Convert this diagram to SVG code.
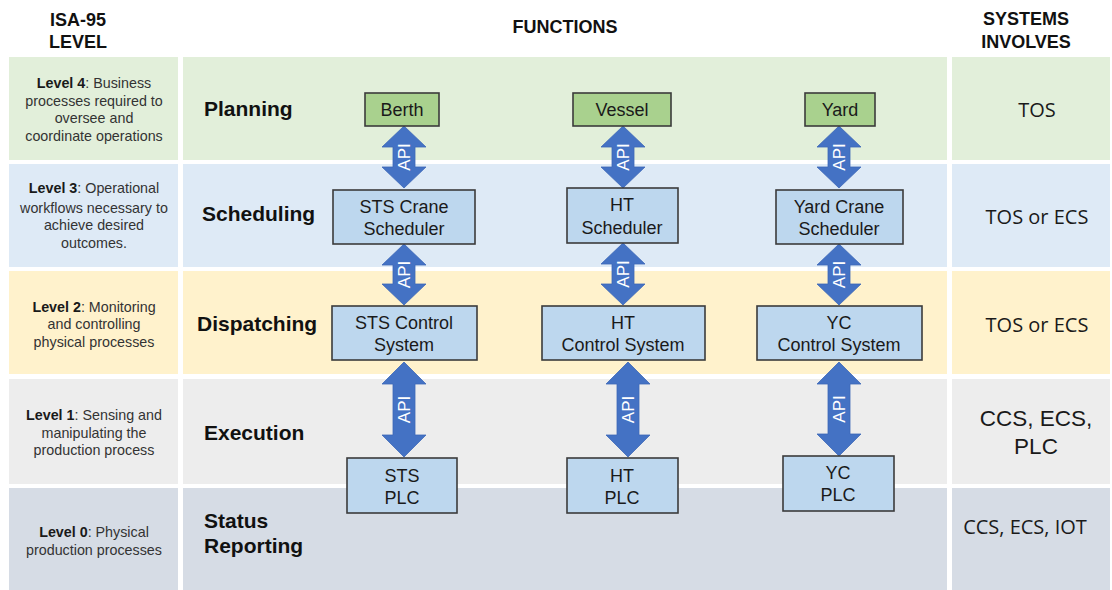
<svg xmlns="http://www.w3.org/2000/svg" width="1112" height="590" viewBox="0 0 1112 590">
  <style>
    .hdr { font-family: "Liberation Sans", Arial, sans-serif; font-weight: bold; font-size: 18px; fill: #111; text-anchor: middle; }
    .lvl { font-family: "Liberation Sans", Arial, sans-serif; font-size: 14.3px; fill: #333; text-anchor: middle; }
    .lvl tspan.b { font-weight: bold; fill: #1a1a1a; }
    .fn { font-family: "Liberation Sans", Arial, sans-serif; font-weight: bold; font-size: 21px; fill: #111; }
    .box { fill: #bdd7ee; stroke: #3b3b3b; stroke-width: 1.6; }
    .box-top { fill: #a9d18e; stroke: #3b3b3b; stroke-width: 1.6; }
    .bt { font-family: "Liberation Sans", Arial, sans-serif; font-size: 18px; fill: #1a1a1a; text-anchor: middle; }
    .sys { font-family: "Open Sans", "Liberation Sans", sans-serif; font-size: 20px; fill: #1a1a1a; text-anchor: middle; }
    .sys2 { font-family: "Liberation Sans", Arial, sans-serif; font-size: 22.5px; fill: #1a1a1a; text-anchor: middle; }
    .arrow { fill: #4472c4; stroke: #3d68b8; stroke-width: 0.8; }
    .api { font-family: "Liberation Sans", Arial, sans-serif; font-size: 17px; fill: #ffffff; text-anchor: middle; }
    .g4 { fill: #e2efda; } .g3 { fill: #deeaf6; } .g2 { fill: #fff2cc; } .g1 { fill: #ededed; } .g0 { fill: #d6dce5; }
  </style>

  <rect width="1112" height="590" fill="#ffffff"/>

  <!-- column headers -->
  <g id="headers">
    <text class="hdr" x="78" y="26">ISA-95</text>
    <text class="hdr" x="78" y="48">LEVEL</text>
    <text class="hdr" x="565" y="33">FUNCTIONS</text>
    <text class="hdr" x="1026" y="25">SYSTEMS</text>
    <text class="hdr" x="1026" y="48">INVOLVES</text>
  </g>

  <!-- level bands: left description, function area, systems -->
  <g id="bands">
    <rect class="g4" x="9" y="57" width="169" height="103"/>
    <rect class="g4" x="183" y="57" width="764" height="103"/>
    <rect class="g4" x="952" y="57" width="158" height="103"/>

    <rect class="g3" x="9" y="164" width="169" height="103"/>
    <rect class="g3" x="183" y="164" width="764" height="103"/>
    <rect class="g3" x="952" y="164" width="158" height="103"/>

    <rect class="g2" x="9" y="271" width="169" height="103"/>
    <rect class="g2" x="183" y="271" width="764" height="103"/>
    <rect class="g2" x="952" y="271" width="158" height="103"/>

    <rect class="g1" x="9" y="379" width="169" height="105"/>
    <rect class="g1" x="183" y="379" width="764" height="105"/>
    <rect class="g1" x="952" y="379" width="158" height="105"/>

    <rect class="g0" x="9" y="488" width="169" height="102"/>
    <rect class="g0" x="183" y="488" width="764" height="102"/>
    <rect class="g0" x="952" y="488" width="158" height="102"/>
  </g>

  <!-- level descriptions -->
  <g id="level-4">
    <text class="lvl" x="94" y="88"><tspan class="b">Level 4</tspan>: Business</text>
    <text class="lvl" x="94" y="106">processes required to</text>
    <text class="lvl" x="94" y="123">oversee and</text>
    <text class="lvl" x="94" y="141">coordinate operations</text>
  </g>
  <g id="level-3">
    <text class="lvl" x="94" y="193"><tspan class="b">Level 3</tspan>: Operational</text>
    <text class="lvl" x="94" y="213">workflows necessary to</text>
    <text class="lvl" x="94" y="230">achieve desired</text>
    <text class="lvl" x="94" y="248">outcomes.</text>
  </g>
  <g id="level-2">
    <text class="lvl" x="94" y="312"><tspan class="b">Level 2</tspan>: Monitoring</text>
    <text class="lvl" x="94" y="329">and controlling</text>
    <text class="lvl" x="94" y="347">physical processes</text>
  </g>
  <g id="level-1">
    <text class="lvl" x="94" y="420"><tspan class="b">Level 1</tspan>: Sensing and</text>
    <text class="lvl" x="94" y="438">manipulating the</text>
    <text class="lvl" x="94" y="455">production process</text>
  </g>
  <g id="level-0">
    <text class="lvl" x="94" y="537"><tspan class="b">Level 0</tspan>: Physical</text>
    <text class="lvl" x="94" y="555">production processes</text>
  </g>

  <!-- function names -->
  <g id="functions">
    <text class="fn" x="204" y="116">Planning</text>
    <text class="fn" x="202" y="221">Scheduling</text>
    <text class="fn" x="197" y="331">Dispatching</text>
    <text class="fn" x="204" y="440">Execution</text>
    <text class="fn" x="204" y="528">Status</text>
    <text class="fn" x="204" y="553">Reporting</text>
  </g>

  <!-- systems involved -->
  <g id="systems">
    <text class="sys" x="1037" y="117">TOS</text>
    <text class="sys" x="1037" y="224">TOS or ECS</text>
    <text class="sys" x="1037" y="332">TOS or ECS</text>
    <text class="sys2" x="1036" y="426">CCS, ECS,</text>
    <text class="sys2" x="1036" y="454">PLC</text>
    <text class="sys" x="1025" y="534">CCS, ECS, IOT</text>
  </g>

  <!-- API connectors (double-headed block arrows) -->
  <g id="connectors">
    <path class="arrow" d="M404,126 L426,147 L415,147 L415,167 L426,167 L404,188 L382,167 L393,167 L393,147 L382,147 Z"/>
    <path class="arrow" d="M404,244 L426,265 L415,265 L415,284 L426,284 L404,305 L382,284 L393,284 L393,265 L382,265 Z"/>
    <path class="arrow" d="M404,362 L426,384 L415,384 L415,435 L426,435 L404,457 L382,435 L393,435 L393,384 L382,384 Z"/>

    <path class="arrow" d="M623,126 L645,147 L634,147 L634,167 L645,167 L623,188 L601,167 L612,167 L612,147 L601,147 Z"/>
    <path class="arrow" d="M623,243 L645,264 L634,264 L634,284 L645,284 L623,305 L601,284 L612,284 L612,264 L601,264 Z"/>
    <path class="arrow" d="M628,362 L650,384 L639,384 L639,435 L650,435 L628,457 L606,435 L617,435 L617,384 L606,384 Z"/>

    <path class="arrow" d="M839,126 L861,147 L850,147 L850,167 L861,167 L839,188 L817,167 L828,167 L828,147 L817,147 Z"/>
    <path class="arrow" d="M839,244 L861,265 L850,265 L850,284 L861,284 L839,305 L817,284 L828,284 L828,265 L817,265 Z"/>
    <path class="arrow" d="M839,362 L861,384 L850,384 L850,434 L861,434 L839,456 L817,434 L828,434 L828,384 L817,384 Z"/>

    <text class="api" transform="translate(404,157) rotate(-90)" y="6">API</text>
    <text class="api" transform="translate(404,274.5) rotate(-90)" y="6">API</text>
    <text class="api" transform="translate(404,409.5) rotate(-90)" y="6">API</text>
    <text class="api" transform="translate(623,157) rotate(-90)" y="6">API</text>
    <text class="api" transform="translate(623,274) rotate(-90)" y="6">API</text>
    <text class="api" transform="translate(628,409.5) rotate(-90)" y="6">API</text>
    <text class="api" transform="translate(839,157) rotate(-90)" y="6">API</text>
    <text class="api" transform="translate(839,274.5) rotate(-90)" y="6">API</text>
    <text class="api" transform="translate(839,409) rotate(-90)" y="6">API</text>
  </g>

  <!-- STS column -->
  <g id="berth">
    <rect class="box-top" x="365" y="93" width="74" height="33"/>
    <text class="bt" x="402" y="116">Berth</text>
  </g>
  <g id="sts-crane-scheduler">
    <rect class="box" x="333" y="190" width="142" height="54"/>
    <text class="bt" x="404" y="213">STS Crane</text>
    <text class="bt" x="404" y="235">Scheduler</text>
  </g>
  <g id="sts-control-system">
    <rect class="box" x="332" y="306" width="145" height="54"/>
    <text class="bt" x="404" y="329">STS Control</text>
    <text class="bt" x="404" y="351">System</text>
  </g>
  <g id="sts-plc">
    <rect class="box" x="347" y="458" width="110" height="55"/>
    <text class="bt" x="402" y="482">STS</text>
    <text class="bt" x="402" y="504">PLC</text>
  </g>

  <!-- HT column -->
  <g id="vessel">
    <rect class="box-top" x="573" y="93" width="98" height="33"/>
    <text class="bt" x="622" y="116">Vessel</text>
  </g>
  <g id="ht-scheduler">
    <rect class="box" x="567" y="188" width="111" height="55"/>
    <text class="bt" x="622" y="211">HT</text>
    <text class="bt" x="622" y="234">Scheduler</text>
  </g>
  <g id="ht-control-system">
    <rect class="box" x="542" y="306" width="163" height="54"/>
    <text class="bt" x="623" y="329">HT</text>
    <text class="bt" x="623" y="351">Control System</text>
  </g>
  <g id="ht-plc">
    <rect class="box" x="567" y="458" width="111" height="55"/>
    <text class="bt" x="622" y="482">HT</text>
    <text class="bt" x="622" y="504">PLC</text>
  </g>

  <!-- YC column -->
  <g id="yard">
    <rect class="box-top" x="805" y="93" width="70" height="33"/>
    <text class="bt" x="840" y="116">Yard</text>
  </g>
  <g id="yard-crane-scheduler">
    <rect class="box" x="776" y="190" width="127" height="54"/>
    <text class="bt" x="839" y="213">Yard Crane</text>
    <text class="bt" x="839" y="235">Scheduler</text>
  </g>
  <g id="yc-control-system">
    <rect class="box" x="757" y="306" width="165" height="54"/>
    <text class="bt" x="839" y="329">YC</text>
    <text class="bt" x="839" y="351">Control System</text>
  </g>
  <g id="yc-plc">
    <rect class="box" x="783" y="456" width="111" height="55"/>
    <text class="bt" x="838" y="479">YC</text>
    <text class="bt" x="838" y="501">PLC</text>
  </g>
</svg>
